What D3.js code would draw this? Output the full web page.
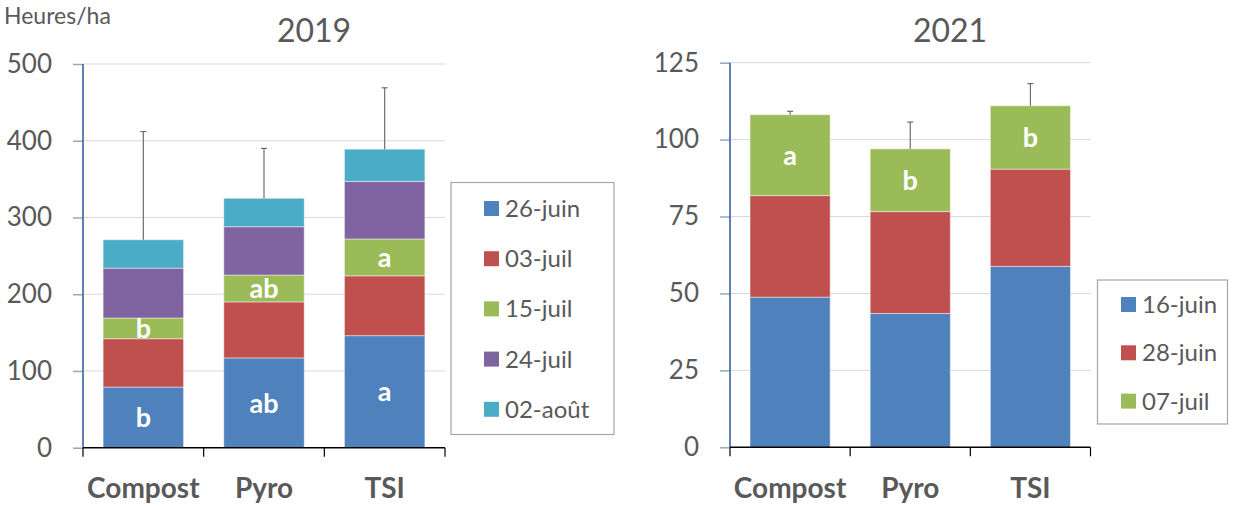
<!DOCTYPE html>
<html>
<head>
<meta charset="utf-8">
<script src="https://cdn.jsdelivr.net/npm/d3@7"></script>
<style>
  html, body { margin: 0; padding: 0; background: #ffffff; }
  svg { display: block; font-family: Lato, "Open Sans", sans-serif; }
</style>
</head>
<body>
<svg id="chart" width="1233" height="508"></svg>
<script>
// Treatments
const categories = ["Compost", "Pyro", "TSI"];

// 2019 – hours per hectare by sampling date
const dates2019 = ["26-juin", "03-juil", "15-juil", "24-juil", "02-août"];
const juin26 = [79, 117, 146];
const juil03 = [63, 73, 78];
const juil15 = [27, 35, 48];
const juil24 = [65, 63, 75];
const aout02 = [37, 37, 42];
const err2019 = [141, 65, 80];
const letters2019First = ["b", "ab", "a"];
const letters2019Third = ["b", "ab", "a"];
const ticks2019 = [0, 100, 200, 300, 400, 500];

// 2021 – hours per hectare by sampling date
const dates2021 = ["16-juin", "28-juin", "07-juil"];
const juin16 = [48.8, 43.5, 58.8];
const juin28 = [33.0, 33.1, 31.6];
const juil07 = [26.3, 20.4, 20.6];
const err2021 = [1.1, 8.7, 7.2];
const letters2021Top = ["a", "b", "b"];
const ticks2021 = [0, 25, 50, 75, 100, 125];

const palette = ["#4F81BD", "#C0504D", "#9BBB59", "#8064A2", "#4BACC6"];
const textGrey = "#595959";

const svg = d3.select("#chart");

function drawPanel(opts) {
  const { seriesNames, seriesValues, errors, ticks, x0, x1, y0, y1,
          title, titleX, labels, legend } = opts;

  const rows = categories.map((c, i) => {
    const r = { cat: c };
    seriesNames.forEach((s, k) => { r[s] = seriesValues[k][i]; });
    return r;
  });
  const stacked = d3.stack().keys(seriesNames)(rows);

  const x = d3.scaleBand().domain(categories).range([x0, x1])
    .paddingInner(1 / 3).paddingOuter(1 / 6);
  const y = d3.scaleLinear().domain([0, ticks[ticks.length - 1]]).range([y0, y1]);

  const g = svg.append("g");

  // horizontal gridlines
  g.append("g").selectAll("line").data(ticks.slice(1)).join("line")
    .attr("x1", x0).attr("x2", x1)
    .attr("y1", d => y(d)).attr("y2", d => y(d))
    .attr("stroke", "#d9d9d9").attr("stroke-width", 1);

  // stacked segments
  g.append("g").selectAll("g").data(stacked).join("g")
    .attr("fill", (d, i) => palette[i])
    .selectAll("rect").data(d => d).join("rect")
    .attr("x", d => x(d.data.cat))
    .attr("width", x.bandwidth())
    .attr("y", d => y(d[1]))
    .attr("height", d => y(d[0]) - y(d[1]))
    .attr("stroke", "#ffffff").attr("stroke-opacity", 0.45).attr("stroke-width", 1);

  // error bars (upper only)
  const top = stacked[stacked.length - 1];
  const eg = g.append("g").attr("stroke", "#6d6d6d").attr("stroke-width", 1.2);
  top.forEach((d, i) => {
    const cx = x(d.data.cat) + x.bandwidth() / 2;
    eg.append("line").attr("x1", cx).attr("x2", cx)
      .attr("y1", y(d[1])).attr("y2", y(d[1] + errors[i]));
    eg.append("line").attr("x1", cx - 3).attr("x2", cx + 3)
      .attr("y1", y(d[1] + errors[i])).attr("y2", y(d[1] + errors[i]));
  });

  // significance letters inside segments
  labels.forEach(({ layer, text }) => {
    g.append("g").selectAll("text").data(stacked[layer]).join("text")
      .attr("x", d => x(d.data.cat) + x.bandwidth() / 2)
      .attr("y", d => (y(d[0]) + y(d[1])) / 2)
      .attr("dy", "0.36em")
      .attr("text-anchor", "middle")
      .attr("fill", "#ffffff")
      .attr("font-weight", 700)
      .attr("font-size", 27)
      .text((d, i) => text[i]);
  });

  // y axis
  const yAxis = g.append("g").attr("transform", `translate(${x0},0)`)
    .call(d3.axisLeft(y).tickValues(ticks).tickSize(10).tickPadding(21).tickFormat(d3.format("d")));
  yAxis.select(".domain").remove();
  yAxis.selectAll(".tick line").attr("stroke", "#8fa9c8").attr("stroke-width", 1.5);
  yAxis.selectAll(".tick text").attr("fill", textGrey).attr("font-size", 26)
    .attr("font-family", "Lato, sans-serif");
  g.append("line").attr("x1", x0).attr("x2", x0).attr("y1", y0).attr("y2", y1)
    .attr("stroke", "#3A5F9E").attr("stroke-width", 1.6);

  // x axis baseline with boundary ticks
  g.append("line").attr("x1", x0).attr("x2", x1).attr("y1", y0).attr("y2", y0)
    .attr("stroke", "#000000").attr("stroke-width", 1.5);
  const bounds = d3.range(categories.length + 1).map(i => x0 + i * x.step());
  g.append("g").selectAll("line").data(bounds).join("line")
    .attr("x1", d => d).attr("x2", d => d)
    .attr("y1", y0).attr("y2", y0 + 9)
    .attr("stroke", "#000000").attr("stroke-width", 1.2);

  g.append("g").selectAll("text").data(categories).join("text")
    .attr("x", d => x(d) + x.bandwidth() / 2)
    .attr("y", 498)
    .attr("text-anchor", "middle")
    .attr("fill", textGrey)
    .attr("font-weight", 700)
    .attr("font-size", 28)
    .text(d => d);

  // title
  g.append("text").attr("x", titleX).attr("y", 42)
    .attr("text-anchor", "middle").attr("fill", textGrey)
    .attr("font-size", 32).text(title);

  // legend
  const lg = g.append("g");
  lg.append("rect").attr("x", legend.x).attr("y", legend.y)
    .attr("width", legend.w).attr("height", legend.h)
    .attr("fill", "#ffffff").attr("stroke", "#a6a6a6").attr("stroke-width", 1.2);
  seriesNames.forEach((s, k) => {
    const cy = legend.firstY + k * legend.gap;
    lg.append("rect").attr("x", legend.swatchX).attr("y", cy - 7.5)
      .attr("width", 15).attr("height", 15).attr("fill", palette[k]);
    lg.append("text").attr("x", legend.swatchX + 21).attr("y", cy)
      .attr("dy", "0.35em").attr("fill", textGrey).attr("font-size", 24).text(s);
  });
}

drawPanel({
  seriesNames: dates2019,
  seriesValues: [juin26, juil03, juil15, juil24, aout02],
  errors: err2019,
  ticks: ticks2019,
  x0: 83, x1: 445, y0: 447.7, y1: 64,
  title: "2019", titleX: 314,
  labels: [{ layer: 0, text: letters2019First }, { layer: 2, text: letters2019Third }],
  legend: { x: 451, y: 182.5, w: 163, h: 252, swatchX: 484, firstY: 208.5, gap: 50.2 }
});

drawPanel({
  seriesNames: dates2021,
  seriesValues: [juin16, juin28, juil07],
  errors: err2021,
  ticks: ticks2021,
  x0: 730, x1: 1090.5, y0: 447.3, y1: 62.7,
  title: "2021", titleX: 950,
  labels: [{ layer: 2, text: letters2021Top }],
  legend: { x: 1097.5, y: 280, w: 130, h: 144, swatchX: 1121, firstY: 304.5, gap: 48.3 }
});

// unit label
svg.append("text").attr("x", 4).attr("y", 24)
  .attr("fill", textGrey).attr("font-size", 23).text("Heures/ha");
</script>
</body>
</html>
